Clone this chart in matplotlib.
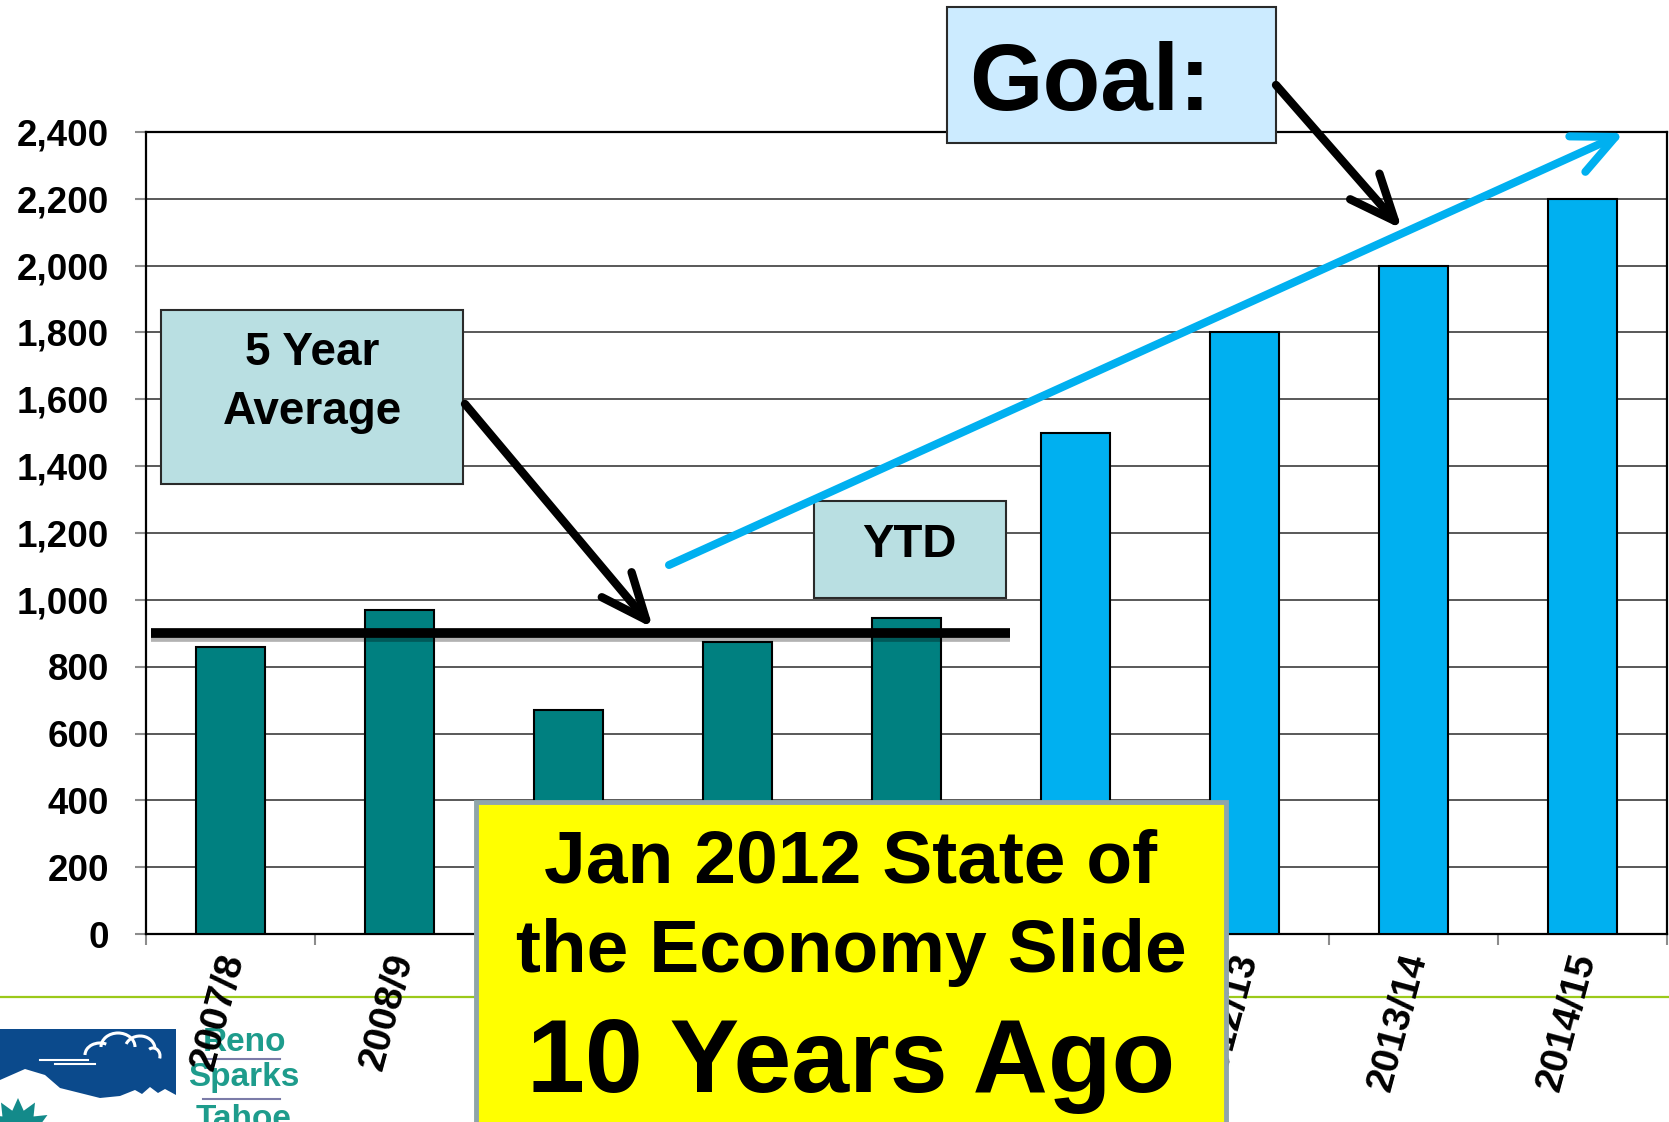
import numpy as np
import matplotlib
matplotlib.use("Agg")
import matplotlib.pyplot as plt
from matplotlib.patches import Rectangle, FancyArrowPatch, Polygon, ArrowStyle, Arc
import matplotlib.transforms as mtransforms
import matplotlib.patheffects as pe

# ---------------- data ----------------
categories = ["2007/8", "2008/9", "2009/10", "2010/11", "2011/12",
              "2011/12", "2012/13", "2013/14", "2014/15"]
actual_values = [860, 970, 670, 875, 945]          # teal bars (last one YTD)
goal_values = [1500, 1800, 2000, 2200]             # blue goal bars
five_year_average = 900
y_ticks = [0, 200, 400, 600, 800, 1000, 1200, 1400, 1600, 1800, 2000, 2200, 2400]

# ---------------- style ----------------
plt.rcParams['font.family'] = ['Liberation Sans', 'DejaVu Sans']
plt.rcParams['font.weight'] = 'bold'

W, H = 1669, 1122
fig = plt.figure(figsize=(W / 100, H / 100), dpi=100, facecolor='white')

TEAL = '#008080'
BLUE = '#00B0F0'

# ---------------- background layer (green rule + logo) ----------------
bg = fig.add_axes([0, 0, 1, 1], zorder=-1)
bg.set_xlim(0, W)
bg.set_ylim(H, 0)
bg.axis('off')
bg.plot([0, W], [997, 997], color='#9BC91A', lw=1.6, solid_capstyle='butt')
# logo
bg.add_patch(Rectangle((0, 1029), 176, 100, fc='#0B4A8C', ec='none'))
bg.add_patch(Polygon([(0, 1080), (25, 1069), (45, 1075), (60, 1088), (80, 1093),
                      (100, 1098), (120, 1096), (135, 1090), (142, 1094), (150, 1087),
                      (158, 1093), (165, 1089), (176, 1095), (176, 1122), (0, 1122)],
                     closed=True, fc='white', ec='none'))
star_t = np.linspace(0, 2 * np.pi, 25)
star_r = np.where(np.arange(25) % 2 == 0, 34, 22)
bg.add_patch(Polygon(np.column_stack([18 + star_r * np.cos(star_t),
                                      1132 + star_r * np.sin(star_t)]),
                     closed=True, fc='#138A8A', ec='none'))
for cx, cy, w, h, t1, t2 in [(100, 1055, 30, 24, 180, 300), (118, 1047, 34, 28, 180, 360),
                            (140, 1049, 30, 26, 200, 360), (153, 1056, 14, 16, 240, 380)]:
    bg.add_patch(Arc((cx, cy), w, h, theta1=t1, theta2=t2, color='white', lw=2.2))
bg.plot([40, 88], [1060, 1060], color='white', lw=1.5)
bg.plot([55, 95], [1064, 1064], color='white', lw=1.5)
bg.plot([203, 280], [1059, 1059], color='#7B7BA8', lw=1.5)
bg.plot([203, 280], [1099, 1099], color='#7B7BA8', lw=1.5)
for txt, yb in [("Reno", 1051), ("Sparks", 1086), ("Tahoe", 1128)]:
    bg.text(244, yb, txt, ha='center', va='baseline', fontsize=24,
            color='#1E9C8C', fontweight='bold')

# ---------------- main chart ----------------
ax = fig.add_axes([146 / W, (H - 934) / H, (1667 - 146) / W, (934 - 132) / H], zorder=0)
x = np.arange(len(categories))
n_act = len(actual_values)
ax.bar(x[:n_act], actual_values, width=0.41, color=TEAL, edgecolor='black',
       linewidth=1.5, zorder=3)
ax.bar(x[n_act:], goal_values, width=0.41, color=BLUE, edgecolor='black',
       linewidth=1.5, zorder=3)

ax.set_xlim(-0.5, len(categories) - 0.5)
ax.set_ylim(y_ticks[0], y_ticks[-1])
ax.set_yticks(y_ticks)
ax.yaxis.set_major_formatter(matplotlib.ticker.StrMethodFormatter('{x:,.0f}'))
ax.tick_params(axis='y', which='major', length=7.9, width=1.5, color='#8c8c8c',
               pad=18.7, labelsize=26.5)
ax.set_xticks([])
ax.set_xticks(np.arange(-0.5, len(categories), 1.0), minor=True)
ax.tick_params(axis='x', which='minor', length=7.9, width=1.5, color='#8c8c8c',
               labelbottom=False)
ax.grid(axis='y', color='#3c3c3c', lw=1.2)
ax.set_axisbelow(True)
for s in ax.spines.values():
    s.set_color('black')
    s.set_linewidth(1.6)

lab_trans = mtransforms.offset_copy(ax.get_xaxis_transform(), fig=fig,
                                    x=3, y=-20, units='dots')
for xi, lab in zip(x, categories):
    ax.text(xi, 0, lab, transform=lab_trans, rotation=75, rotation_mode='anchor',
            ha='right', va='center', fontsize=28, fontweight='bold', clip_on=False)

# 5-year average line
ax.plot([-0.47, 4.61], [five_year_average, five_year_average], color='black', lw=7,
        solid_capstyle='butt', zorder=6,
        path_effects=[pe.SimpleLineShadow(offset=(0, -3), alpha=0.3, shadow_color='black'),
                      pe.Normal()])

# ---------------- overlay annotations (pixel coords) ----------------
ov = fig.add_axes([0, 0, 1, 1], zorder=10)
ov.set_xlim(0, W)
ov.set_ylim(H, 0)
ov.axis('off')
ov.patch.set_alpha(0)

# 5 Year Average box
ov.add_patch(Rectangle((161, 310), 302, 174, fc='#B9DFE2', ec='#2a2a2a', lw=1.5))
ov.text(312, 365, "5 Year", ha='center', va='baseline', fontsize=33, fontweight='bold')
ov.text(312, 424, "Average", ha='center', va='baseline', fontsize=33, fontweight='bold')

# YTD box
ov.add_patch(Rectangle((814, 501), 192, 97, fc='#B9DFE2', ec='#2a2a2a', lw=1.5))
ov.text(909, 557, "YTD", ha='center', va='baseline', fontsize=34, fontweight='bold')

# Goal box
ov.add_patch(Rectangle((947, 7), 329, 136, fc='#CCEBFF', ec='#2a2a2a', lw=1.5))
ov.text(969, 110, "Goal:", ha='left', va='baseline', fontsize=68, fontweight='bold')

blk_style = ArrowStyle('->', head_length=33, head_width=14)
a1 = FancyArrowPatch((465, 404), (653, 628), arrowstyle=blk_style, mutation_scale=1,
                     lw=6, color='black', shrinkA=0, shrinkB=0,
                     capstyle='round', joinstyle='round')
ov.add_patch(a1)
a2 = FancyArrowPatch((1276, 85), (1402, 229), arrowstyle=blk_style, mutation_scale=1,
                     lw=6, color='black', shrinkA=0, shrinkB=0,
                     capstyle='round', joinstyle='round')
ov.add_patch(a2)
blue_style = ArrowStyle('->', head_length=30, head_width=14)
a3 = FancyArrowPatch((669, 565), (1624, 133), arrowstyle=blue_style, mutation_scale=1,
                     lw=5.8, color=BLUE, shrinkA=0, shrinkB=0,
                     capstyle='round', joinstyle='round')
ov.add_patch(a3)

# Yellow box
ov.add_patch(Rectangle((476, 802), 750, 330, fc='#FFFF00', ec='#8FA5AA', lw=3.5))
ov.text(851, 882, "Jan 2012 State of", ha='center', va='baseline', fontsize=54,
        fontweight='bold')
ov.text(851, 972, "the Economy Slide", ha='center', va='baseline', fontsize=54,
        fontweight='bold')
ov.text(851, 1092, "10 Years Ago", ha='center', va='baseline', fontsize=75,
        fontweight='bold')

fig.savefig("out.png", dpi=100, facecolor='white')
